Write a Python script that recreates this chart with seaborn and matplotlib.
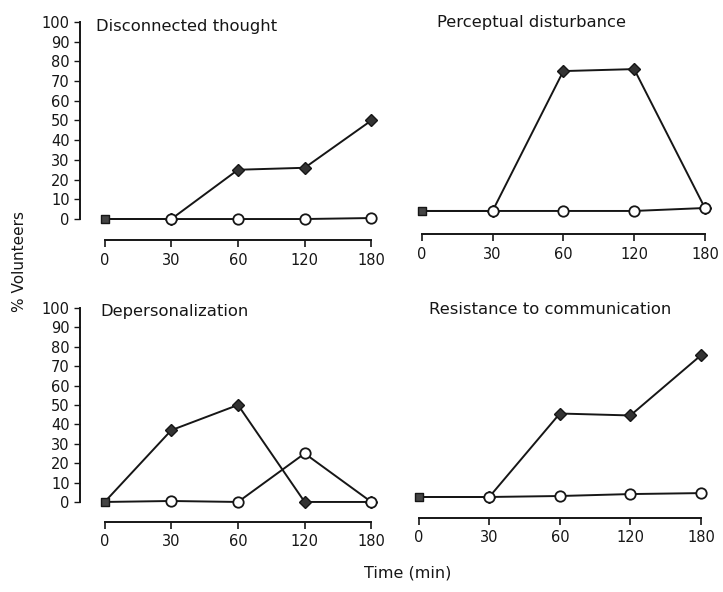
import numpy as np
import pandas as pd
from matplotlib import pyplot as plt
import seaborn as sns

# time points (categorical, drawn evenly spaced)
times = ['0', '30', '60', '120', '180']
panels = ['Disconnected thought', 'Perceptual disturbance',
          'Depersonalization', 'Resistance to communication']

# % volunteers
drug = {
    'Disconnected thought': [0, 0, 25, 26, 50],
    'Perceptual disturbance': [0, 0, 71, 72, 1.5],
    'Depersonalization': [0, 37, 50, 0, 0],
    'Resistance to communication': [0, 0, 43, 42, 73],
}
placebo = {
    'Disconnected thought': [0, 0, 0, 0, 0.5],
    'Perceptual disturbance': [0, 0, 0, 0, 1.5],
    'Depersonalization': [0, 0.5, 0, 25, 0],
    'Resistance to communication': [0, 0, 0.5, 1.5, 2],
}
yticks = list(range(0, 101, 10))

rows = []
for p in panels:
    for i, t in enumerate(times):
        rows.append({'panel': p, 'pos': i, 'time': t, 'series': 'drug', 'value': drug[p][i]})
        rows.append({'panel': p, 'pos': i, 'time': t, 'series': 'placebo', 'value': placebo[p][i]})
df = pd.DataFrame(rows)

W, H = 723, 592
sns.set_style('white')
plt.rcParams['font.family'] = ['DejaVu Sans']
fig = plt.figure(figsize=(W / 100, H / 100), dpi=100)
ink = '#161616'

# layout in pixels: left, top, width, height, ylim, xlim, x-axis position, show y axis
layout = {
    'Disconnected thought': (80, 18, 298, 222.7, (-11, 102), (-0.37, 4.1), -10.7, True),
    'Perceptual disturbance': (397, 10, 315, 224.6, (-12, 102), (-0.35, 4.1), -11.8, False),
    'Depersonalization': (80, 304.1, 298, 219.2, (-11, 102), (-0.37, 4.1), -10.3, True),
    'Resistance to communication': (394, 299, 314, 220.3, (-11.5, 102), (-0.35, 4.1), -10.8, False),
}
title_pos = {
    'Disconnected thought': (96, 26),
    'Perceptual disturbance': (437, 23),
    'Depersonalization': (100, 312),
    'Resistance to communication': (429, 309),
}

for p in panels:
    l, t, w, h, ylim, xlim, xpos, showy = layout[p]
    ax = fig.add_axes([l / W, 1 - (t + h) / H, w / W, h / H])
    d = df[(df.panel == p) & (df.series == 'drug')]
    pl = df[(df.panel == p) & (df.series == 'placebo')]
    sns.lineplot(data=d, x='pos', y='value', ax=ax, color=ink, lw=1.4,
                 marker='D', markersize=6, markevery=[1, 2, 3, 4],
                 mfc='#333333', mec=ink, mew=1.0, zorder=3)
    sns.lineplot(data=pl, x='pos', y='value', ax=ax, color=ink, lw=1.4,
                 marker='o', markersize=7.5, markevery=[1, 2, 3, 4],
                 mfc='white', mec=ink, mew=1.3, zorder=4)
    sns.scatterplot(x=[0], y=[drug[p][0]], ax=ax, marker='s', s=30,
                    color='#444444', edgecolor=ink, linewidth=1, zorder=5)
    ax.set_xlim(*xlim)
    ax.set_ylim(*ylim)
    ax.set_xticks(range(len(times)))
    ax.set_xticklabels(times)
    ax.set_xlabel('')
    ax.set_ylabel('')
    for s in ['top', 'right']:
        ax.spines[s].set_visible(False)
    ax.spines['bottom'].set_position(('data', xpos))
    ax.spines['bottom'].set_bounds(0, 4)
    ax.spines['bottom'].set_linewidth(1.4)
    ax.spines['bottom'].set_color(ink)
    ax.tick_params(axis='x', direction='out', length=5, width=1.2, color=ink,
                   labelsize=10.5, labelcolor=ink, pad=4, bottom=True)
    if showy:
        ax.spines['left'].set_bounds(0, 100)
        ax.spines['left'].set_linewidth(1.4)
        ax.spines['left'].set_color(ink)
        ax.set_yticks(yticks)
        ax.tick_params(axis='y', direction='out', length=4, width=1.0, color=ink,
                       labelsize=10.5, labelcolor=ink, pad=3.5, left=True)
    else:
        ax.spines['left'].set_visible(False)
        ax.set_yticks([])
    ax.patch.set_alpha(0)
    tx, ty = title_pos[p]
    fig.text(tx / W, 1 - ty / H, p, fontsize=11.8, color=ink, ha='left', va='center')

fig.text(20 / W, 1 - 262 / H, '% Volunteers', rotation=90, fontsize=11,
         color=ink, ha='center', va='center')
fig.text(408 / W, 1 - 573 / H, 'Time (min)', fontsize=11.5, color=ink,
         ha='center', va='center')

fig.savefig('out.png', dpi=100)
plt.close('all')
